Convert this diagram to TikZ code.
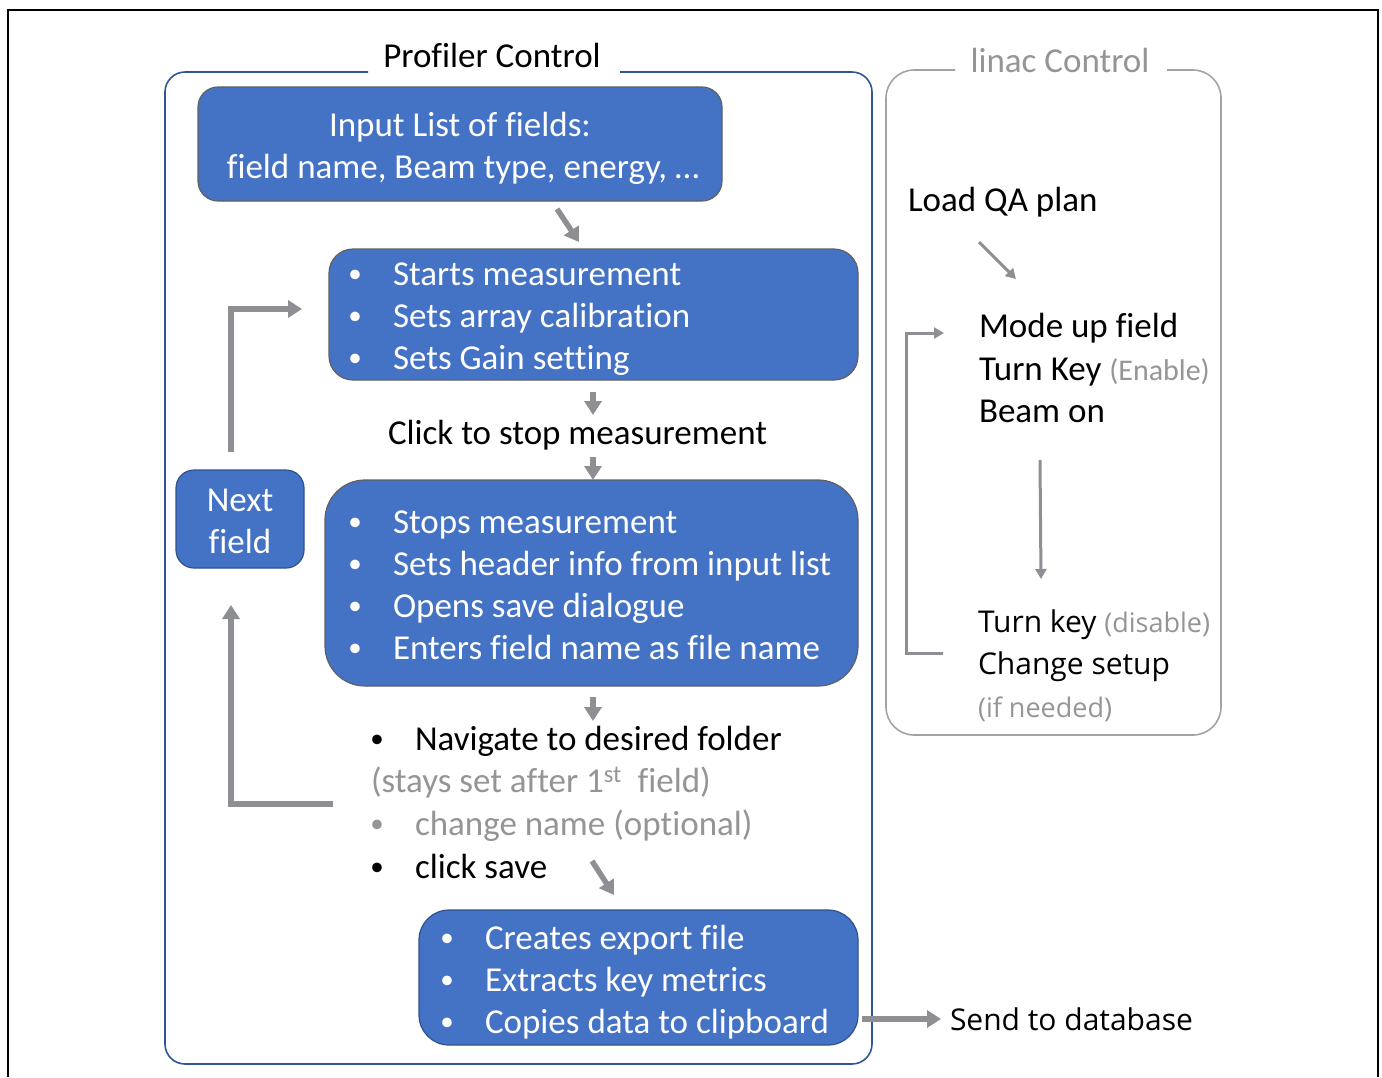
\documentclass[tikz,border=0pt]{standalone}
\usepackage{fontspec}
\setmainfont{Carlito}[Ligatures=NoCommon]
\newfontfamily\osans{Open Sans}
\usetikzlibrary{arrows.meta}
\definecolor{boxblue}{HTML}{4472C4}
\definecolor{darkblue}{HTML}{2F528F}
\definecolor{frameblue}{HTML}{2F5597}
\definecolor{framegray}{HTML}{A3A3A3}
\definecolor{arrgray}{HTML}{8E8F93}
\definecolor{txtgray}{HTML}{959595}
\definecolor{edgegray}{HTML}{606060}
\begin{document}
\begin{tikzpicture}[x=1pt,y=-1pt,
  every node/.style={inner sep=0pt,outer sep=0pt},
  bluebox/.style={fill=boxblue,draw=edgegray,line width=1.2pt,anchor=north west},
  txt/.style={font=\fontsize{35}{42}\selectfont,anchor=base west},
  ctxt/.style={font=\fontsize{35}{42}\selectfont,anchor=base},
  wtxt/.style={txt,text=white},
  bulk/.style={font=\fontsize{27}{32}\selectfont,anchor=base},
  bul/.style={bulk,text=white},
  otxt/.style={font=\osans\fontsize{30}{36}\selectfont,anchor=base west},
  thick arrow/.style={draw=arrgray,line width=5.5pt,-{Triangle[width=17pt,length=14pt]}},
  thin arrow/.style={draw=arrgray,line width=3pt,-{Triangle[width=11pt,length=10pt]}},
  loopline/.style={draw=arrgray,line width=5.5pt},
  thinloop/.style={draw=arrgray,line width=3pt}
]
\useasboundingbox (0,0) rectangle (1382,1077);
% outer frame
\draw[line width=2pt,black] (8,1077) -- (8,10) -- (1378,10) -- (1378,1077);

% Profiler Control container
\draw[frameblue,line width=1.6pt,rounded corners=20pt]
  (368,72) -- (165,72) -- (165,1064) -- (872,1064) -- (872,72) -- (620,72);
\node[ctxt] (ptitle) at (492,67) {Profiler Control};

% linac Control container
\draw[framegray,line width=1.6pt,rounded corners=28pt]
  (955,70) -- (886,70) -- (886,735) -- (1221,735) -- (1221,70) -- (1167,70);
\node[ctxt,text=txtgray] (ltitle) at (1060,72) {linac Control};

% Box 1
\node[bluebox,rounded corners=20pt,minimum width=524pt,minimum height=114pt] (b1) at (198,87) {};
\node[ctxt,text=white] (b1a) at (460,136) {Input List of fields:};
\node[ctxt,text=white] (b1b) at (463,178) {field name, Beam type, energy, …};

% Box 2
\node[bluebox,rounded corners=24pt,minimum width=529pt,minimum height=131pt] (b2) at (329,249) {};
\node[bul] (b2ba) at (355,282) {•};
\node[wtxt] (b2a) at (393,285) {Starts measurement};
\node[bul] (b2bb) at (355,324) {•};
\node[wtxt] (b2b) at (393,327) {Sets array calibration};
\node[bul] (b2bc) at (355,366) {•};
\node[wtxt] (b2c) at (393,369) {Sets Gain setting};

% Click to stop
\node[txt] (click) at (388,444) {Click to stop measurement};

% Box 3
\node[bluebox,rounded corners=40pt,minimum width=533pt,minimum height=206pt] (b3) at (325,480) {};
\node[bul] (b3ba) at (355,530) {•};
\node[wtxt] (b3a) at (393,533) {Stops measurement};
\node[bul] (b3bb) at (355,572) {•};
\node[wtxt] (b3b) at (393,575) {Sets header info from input list};
\node[bul] (b3bc) at (355,614) {•};
\node[wtxt] (b3c) at (393,617) {Opens save dialogue};
\node[bul] (b3bd) at (355,656) {•};
\node[wtxt] (b3d) at (393,659) {Enters field name as file name};

% Next field
\node[bluebox,draw=darkblue,rounded corners=18pt,minimum width=128pt,minimum height=98pt] (nf) at (176,470) {};
\node[ctxt,text=white] (nfa) at (240,511) {Next};
\node[ctxt,text=white] (nfb) at (240,553) {field};

% Navigate list
\node[bulk] (nvb) at (377,747) {•};
\node[txt] (nv) at (415,750) {Navigate to desired folder};
\node[txt,text=txtgray] (stay) at (371,792) {(stays set after 1\textsuperscript{st}\ \ field)};
\node[bulk,text=txtgray] (cnb) at (377,832) {•};
\node[txt,text=txtgray] (cn) at (415,835) {change name (optional)};
\node[bulk] (csb) at (377,875) {•};
\node[txt] (cs) at (415,878) {click save};

% Box 4
\node[bluebox,draw=darkblue,rounded corners=30pt,minimum width=439pt,minimum height=135pt] (b4) at (419,910) {};
\node[bul] (b4ba) at (447,946) {•};
\node[wtxt] (b4a) at (485,949) {Creates export file};
\node[bul] (b4bb) at (447,988) {•};
\node[wtxt] (b4b) at (485,991) {Extracts key metrics};
\node[bul] (b4bc) at (447,1030) {•};
\node[wtxt] (b4c) at (485,1033) {Copies data to clipboard};

% Send to database
\node[otxt] (send) at (950,1030) {Send to database};

% linac texts
\node[txt] (load) at (908,211) {Load QA plan};
\node[txt] (mode) at (979,337) {Mode up field};
\node[txt] (tkey) at (979,380) {Turn Key {\color{txtgray}\fontsize{30}{36}\selectfont(Enable)}};
\node[txt] (beam) at (979,422) {Beam on};
\node[otxt] (tkd) at (978,632) {Turn key {\color{txtgray}\fontsize{27}{32}\selectfont(disable)}};
\node[otxt] (chs) at (978,674) {Change setup};
\node[otxt,text=txtgray,font=\osans\fontsize{27}{32}\selectfont] (ifn) at (978,717) {(if needed)};

% coordinates for free arrow ends
\coordinate (a1s) at (557,209);
\coordinate (a1e) at (579,242);
\coordinate (a4s) at (592,861);
\coordinate (a4e) at (614,895);
\coordinate (la1s) at (979,242);
\coordinate (la1e) at (1016,279);
\coordinate (ldS) at (1040,460);
\coordinate (ldE) at (1041,579);
\coordinate (c2s) at (593,392);
\coordinate (c2e) at (593,415);
\coordinate (c3s) at (593,457);
\coordinate (c5s) at (593,697);
\coordinate (c5e) at (593,721);

% arrows, profiler
\draw[thick arrow] (a1s) -- (a1e);
\draw[thick arrow] (c2s) -- (c2e);
\draw[thick arrow] (c3s) -- (b3.north -| c3s);
\draw[thick arrow] (c5s) -- (c5e);
\draw[thick arrow] (a4s) -- (a4e);
% loop back
\draw[loopline] (333,804) -- (231,804) -- (231,640);
\draw[thick arrow] (231,650) -- (231,605);
\draw[loopline] (231,452) -- (231,309) -- (285,309);
\draw[thick arrow] (280,309) -- (302,309);
% send
\draw[thick arrow] (b4.east |- 0,1019) ++(4,0) -- (941,1019);

% linac arrows
\draw[thin arrow] (la1s) -- (la1e);
\draw[thin arrow] (ldS) -- (ldE);
\draw[thinloop] (943,653) -- (906,653) -- (906,333) -- (930,333);
\draw[thin arrow] (925,333) -- (944,333);
\end{tikzpicture}
\end{document}
